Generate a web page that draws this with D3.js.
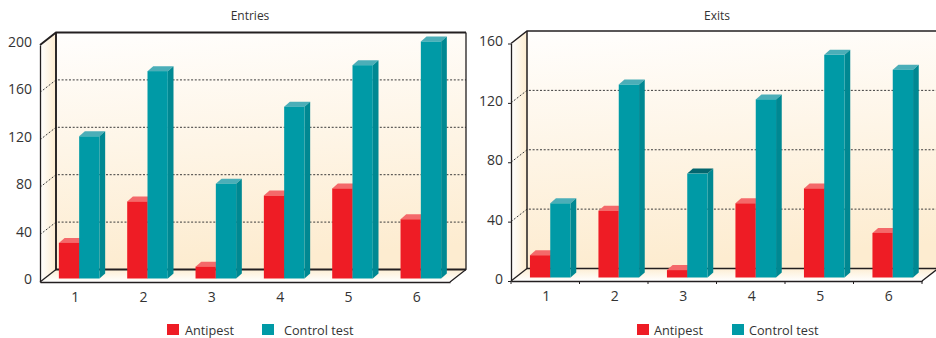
<!DOCTYPE html>
<html>
<head>
<meta charset="utf-8">
<script src="https://cdn.jsdelivr.net/npm/d3@7"></script>
<style>
    html, body { margin: 0; padding: 0; background: #fff; overflow: hidden; }
    text { font-family: "Open Sans", "Noto Sans", sans-serif; fill: #333; }
</style>
</head>
<body>
<div id="div_chart"></div>
<script>
var categories = ["1", "2", "3", "4", "5", "6"];
var seriesNames = ["Antipest", "Control test"];
var entriesAntipest = [30, 65, 10, 70, 76, 50];
var entriesControl = [120, 175, 80, 145, 180, 200];
var entriesTicks = [0, 40, 80, 120, 160, 200];
var exitsAntipest = [15, 45, 5, 50, 60, 30];
var exitsControl = [50, 130, 70, 120, 150, 140];
var exitsTicks = [0, 40, 80, 120, 160];

var svg = d3.select("#div_chart")
    .append("svg")
        .attr("width", 936)
        .attr("height", 338);

// Wall and floor gradients
var defs = svg.append("defs");
function gradient(id, x2, y2, from, to) {
    var g = defs.append("linearGradient").attr("id", id)
        .attr("x1", 0).attr("y1", 0).attr("x2", x2).attr("y2", y2);
    g.append("stop").attr("offset", 0).attr("stop-color", from);
    g.append("stop").attr("offset", 1).attr("stop-color", to);
}
gradient("wall", 0.12, 1, "#fffefd", "#fdecd0");
gradient("side", 1, 0, "#ffffff", "#fdeccf");
gradient("floor", 0, 1, "#fdeed4", "#ffffff");

function drawChart(opts) {
    var depthX = 16, depthY = 12.5, barDepthX = 5.7, barDepthY = 5;
    var g = svg.append("g");

    var x = d3.scaleBand().domain(categories).range([opts.left, opts.right]);
    var y = d3.scaleLinear().domain([0, opts.max]).range([opts.bottom, opts.top]);

    function poly(points) { return d3.line()(points) + "Z"; }

    // Back wall, side wall, floor
    g.append("path").attr("fill", "url(#wall)")
        .attr("d", poly([[opts.left + depthX, opts.top - depthY], [opts.right + depthX, opts.top - depthY],
            [opts.right + depthX, opts.bottom - depthY], [opts.left + depthX, opts.bottom - depthY]]));
    g.append("path").attr("fill", "url(#side)")
        .attr("d", poly([[opts.left, opts.top], [opts.left + depthX, opts.top - depthY],
            [opts.left + depthX, opts.bottom - depthY], [opts.left, opts.bottom]]));
    g.append("path").attr("fill", "url(#floor)")
        .attr("d", poly([[opts.left, opts.bottom], [opts.left + depthX, opts.bottom - depthY],
            [opts.right + depthX, opts.bottom - depthY], [opts.right, opts.bottom]]));

    // Dotted grid lines, back wall then side wall
    opts.ticks.slice(1, -1).forEach(function (t) {
        g.append("path").attr("fill", "none").attr("stroke", "#3a3a3a")
            .attr("stroke-width", 1).attr("stroke-dasharray", "2,1.7")
            .attr("d", d3.line()([[opts.left, y(t)], [opts.left + depthX, y(t) - depthY],
                [opts.right + depthX, y(t) - depthY]]));
    });

    // Frame lines
    g.append("path").attr("fill", "none").attr("stroke", "#231f20").attr("stroke-width", 1.3)
        .attr("d", d3.line()([[opts.right, opts.bottom], [opts.right + depthX, opts.bottom - depthY],
            [opts.right + depthX, opts.top - depthY]]));
    g.append("path").attr("fill", "none").attr("stroke", "#231f20").attr("stroke-width", opts.frame)
        .attr("d", d3.line()([[opts.left, opts.top], [opts.left + depthX, opts.top - depthY],
            [opts.right + depthX, opts.top - depthY]]));
    g.append("path").attr("fill", "none").attr("stroke", "#231f20").attr("stroke-width", opts.frame)
        .attr("d", d3.line()([[opts.left + depthX, opts.top - depthY], [opts.left + depthX, opts.bottom - depthY],
            [opts.right + depthX, opts.bottom - depthY]]));
    g.append("path").attr("fill", "none").attr("stroke", "#231f20").attr("stroke-width", 1.3)
        .attr("d", d3.line()([[opts.left, opts.bottom], [opts.left + depthX, opts.bottom - depthY]]));

    // Bars
    var barWidth = 20.3, shiftX = 5, shiftY = 3.5;
    function bar(cat, value, offset, colors) {
        var x0 = x(cat) + x.bandwidth() / 2 + shiftX + offset;
        var x1 = x0 + barWidth;
        var y0 = opts.bottom - shiftY;
        var yTop = y(value) - shiftY;
        g.append("path").attr("fill", colors.top)
            .attr("d", poly([[x0, yTop], [x0 + barDepthX, yTop - barDepthY], [x1 + barDepthX, yTop - barDepthY], [x1, yTop]]));
        g.append("path").attr("fill", colors.side)
            .attr("d", poly([[x1, yTop], [x1 + barDepthX, yTop - barDepthY], [x1 + barDepthX, y0 - barDepthY], [x1, y0]]));
        g.append("rect").attr("x", x0).attr("y", yTop).attr("width", barWidth)
            .attr("height", y0 - yTop).attr("fill", colors.front);
    }
    categories.forEach(function (c, i) {
        bar(c, opts.a[i], -barWidth, {front: "#ee1c25", side: "#c9151d", top: "#f4696a"});
        bar(c, opts.b[i], 0, {
            front: "#009aa6",
            side: "#008892",
            top: (opts.darkTop === i) ? "#03666e" : "#4baeb8"
        });
    });

    // Front axes
    var yAxis = d3.axisLeft(y).tickValues(opts.ticks).tickSize(opts.yTick).tickSizeOuter(0).tickPadding(opts.yPad);
    var yg = g.append("g").attr("transform", "translate(" + opts.left + ",0)").call(yAxis);
    yg.select(".domain").attr("stroke", "#231f20").attr("stroke-width", 1.3);
    yg.selectAll(".tick line").attr("stroke", "#231f20");
    yg.selectAll("text").attr("font-size", 14).attr("y", opts.yShift).style("fill", "#333");

    var xAxis = d3.axisBottom(x).tickSize(0).tickPadding(10);
    var xg = g.append("g").attr("transform", "translate(1," + opts.bottom + ")").call(xAxis);
    xg.select(".domain").attr("transform", "translate(-1,0)").attr("stroke", "#231f20").attr("stroke-width", 1.6);
    xg.selectAll("text").attr("font-size", 14).style("fill", "#333");
    if (opts.xTicks) {
        categories.forEach(function (c) {
            xg.append("line").attr("x1", x(c) - 1).attr("x2", x(c) - 1).attr("y1", 0).attr("y2", 3)
                .attr("stroke", "#231f20");
        });
        xg.append("line").attr("x1", opts.right - 1).attr("x2", opts.right - 1).attr("y1", 0).attr("y2", 3)
            .attr("stroke", "#231f20");
    }

    // Title
    g.append("text").attr("x", opts.titleX).attr("y", 20).attr("text-anchor", "middle")
        .attr("font-size", 12).text(opts.title);

    // Legend
    var colors = ["#ee1c25", "#009aa6"];
    seriesNames.forEach(function (name, i) {
        g.append("rect").attr("x", opts.legendX[i]).attr("y", 324).attr("width", 12).attr("height", 11)
            .attr("fill", colors[i]);
        g.append("text").attr("x", opts.legendText[i]).attr("y", 335)
            .attr("font-size", 12.7).text(name);
    });
}

drawChart({
    title: "Entries", titleX: 250,
    a: entriesAntipest, b: entriesControl, ticks: entriesTicks, max: 200,
    left: 40, right: 450, top: 45, bottom: 282,
    yTick: 0, yPad: 8, yShift: -3, xTicks: false, frame: 1.9,
    legendX: [167, 262], legendText: [185, 284]
});
drawChart({
    title: "Exits", titleX: 717,
    a: exitsAntipest, b: exitsControl, ticks: exitsTicks, max: 160,
    left: 511, right: 922, top: 43.5, bottom: 281,
    yTick: 3, yPad: 5, yShift: -2, xTicks: true, frame: 1.5, darkTop: 2,
    legendX: [637, 732], legendText: [654, 749]
});
</script>
</body>
</html>
